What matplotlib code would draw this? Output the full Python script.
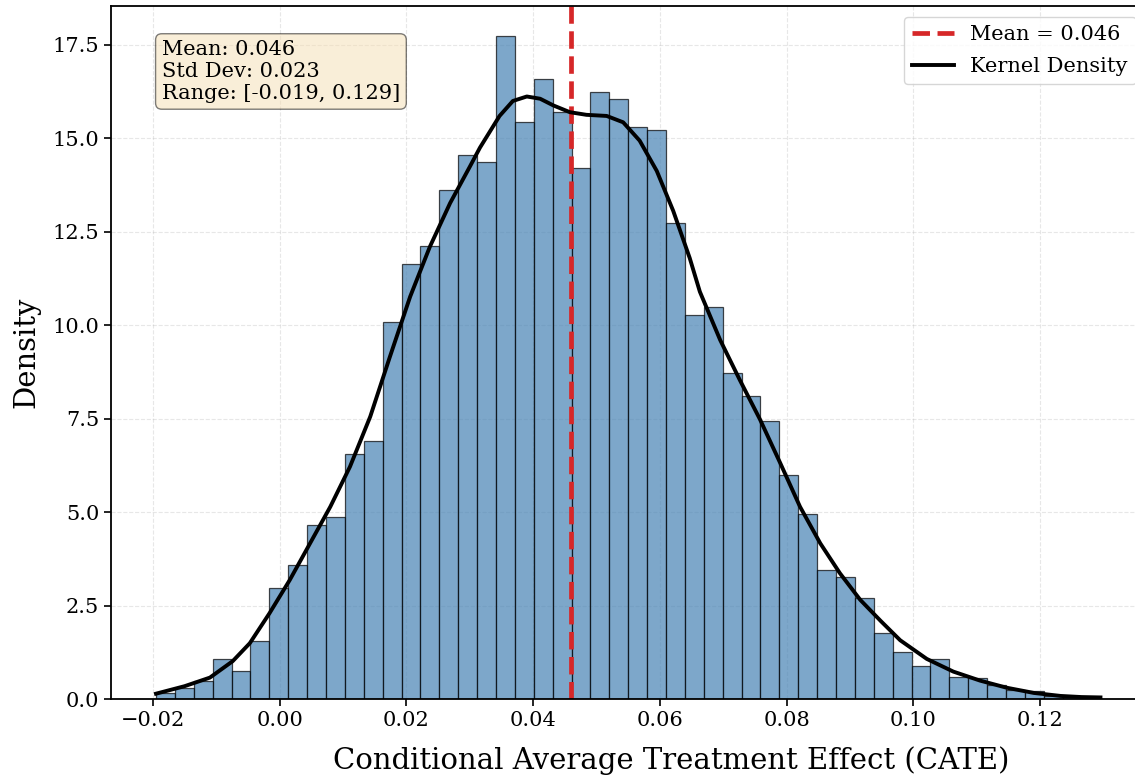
import numpy as np
import matplotlib
matplotlib.use("Agg")
import matplotlib.pyplot as plt

# ---- data ----
cate_min = -0.0195
cate_max = 0.1295
n_bins = 50
density_values = [
    0.18, 0.30, 0.48, 1.09, 0.75, 1.57, 2.98, 3.60, 4.67, 4.88,
    6.57, 6.90, 10.09, 11.65, 12.11, 13.61, 14.55, 14.37, 17.73, 15.43,
    16.59, 15.70, 14.20, 16.24, 16.04, 15.30, 15.22, 12.73, 10.28, 10.48,
    8.73, 8.12, 7.45, 6.01, 4.95, 3.45, 3.26, 2.71, 1.77, 1.27,
    0.89, 1.09, 0.60, 0.56, 0.38, 0.26, 0.23, 0.08, 0.05, 0.05,
]
kde_x = [
    -0.0195, -0.0150, -0.0110, -0.0074, -0.0047, -0.0016, 0.0016, 0.0048,
    0.0080, 0.0111, 0.0143, 0.0174, 0.0206, 0.0237, 0.0269, 0.0300,
    0.0316, 0.0347, 0.0368, 0.0390, 0.0411, 0.0432, 0.0458, 0.0484,
    0.0516, 0.0542, 0.0568, 0.0595, 0.0621, 0.0647, 0.0663, 0.0695,
    0.0726, 0.0758, 0.0790, 0.0821, 0.0853, 0.0884, 0.0916, 0.0948,
    0.0979, 0.1021, 0.1063, 0.1105, 0.1147, 0.1190, 0.1232, 0.1265,
    0.1295,
]
kde_y = [
    0.15, 0.35, 0.58, 1.02, 1.50, 2.30, 3.19, 4.17,
    5.15, 6.22, 7.56, 9.16, 10.77, 12.10, 13.27, 14.24,
    14.75, 15.60, 16.00, 16.12, 16.06, 15.88, 15.70, 15.63,
    15.60, 15.43, 14.94, 14.13, 13.06, 11.80, 10.90, 9.61,
    8.54, 7.48, 6.31, 5.15, 4.17, 3.37, 2.66, 2.10,
    1.58, 1.08, 0.74, 0.50, 0.31, 0.17, 0.09, 0.06,
    0.05,
]
mean_val = 0.046
std_val = 0.023
range_lo = -0.019
range_hi = 0.129

plt.rcParams['font.family'] = ['DejaVu Serif']

W, H = 1135, 778
fig = plt.figure(figsize=(W / 100, H / 100), dpi=100)
ax_left, ax_right, ax_top, ax_bottom = 111, 1148, 6, 699.3
ax = fig.add_axes([ax_left / W, (H - ax_bottom) / H,
                   (ax_right - ax_left) / W, (ax_bottom - ax_top) / H])

edges = np.linspace(cate_min, cate_max, n_bins + 1)
centers = 0.5 * (edges[:-1] + edges[1:])
ax.hist(centers, bins=edges, weights=density_values, color='steelblue',
        edgecolor='black', alpha=0.7, linewidth=0.9)

ax.axvline(mean_val, color='#d62728', linestyle='--', linewidth=3.4,
           label=f'Mean = {mean_val:.3f}')
ax.plot(kde_x, kde_y, color='black', linewidth=2.8, label='Kernel Density',
        solid_joinstyle='round')

ax.set_xlim(-0.0266, 0.137)
ax.set_ylim(0, 18.54)
ax.set_xticks([-0.02, 0.0, 0.02, 0.04, 0.06, 0.08, 0.10, 0.12])
ax.set_yticks([0, 2.5, 5, 7.5, 10, 12.5, 15, 17.5])
ax.tick_params(labelsize=15, width=1.2, length=5)
ax.set_xlabel('Conditional Average Treatment Effect (CATE)', fontsize=21)
ax.set_ylabel('Density', fontsize=21)
ax.xaxis.set_label_coords((671 - ax_left) / (ax_right - ax_left), -0.067)
ax.yaxis.set_label_coords(-0.068, 0.5)
ax.grid(True, linestyle='--', alpha=0.3)
ax.set_axisbelow(True)
for s in ax.spines.values():
    s.set_linewidth(1.3)

stats_text = (f'Mean: {mean_val:.3f}\nStd Dev: {std_val:.3f}\n'
              f'Range: [{range_lo:.3f}, {range_hi:.3f}]')
ax.text(0.049, 0.951, stats_text, transform=ax.transAxes, fontsize=15,
        va='top', ha='left',
        bbox=dict(boxstyle='round', facecolor='wheat', alpha=0.5,
                  edgecolor='black'))

ax.legend(loc='upper right', fontsize=15, labelspacing=0.6,
          bbox_to_anchor=(1136 / W, (H - 17) / H),
          bbox_transform=fig.transFigure, borderaxespad=0)

fig.savefig('out.png', dpi=100)
